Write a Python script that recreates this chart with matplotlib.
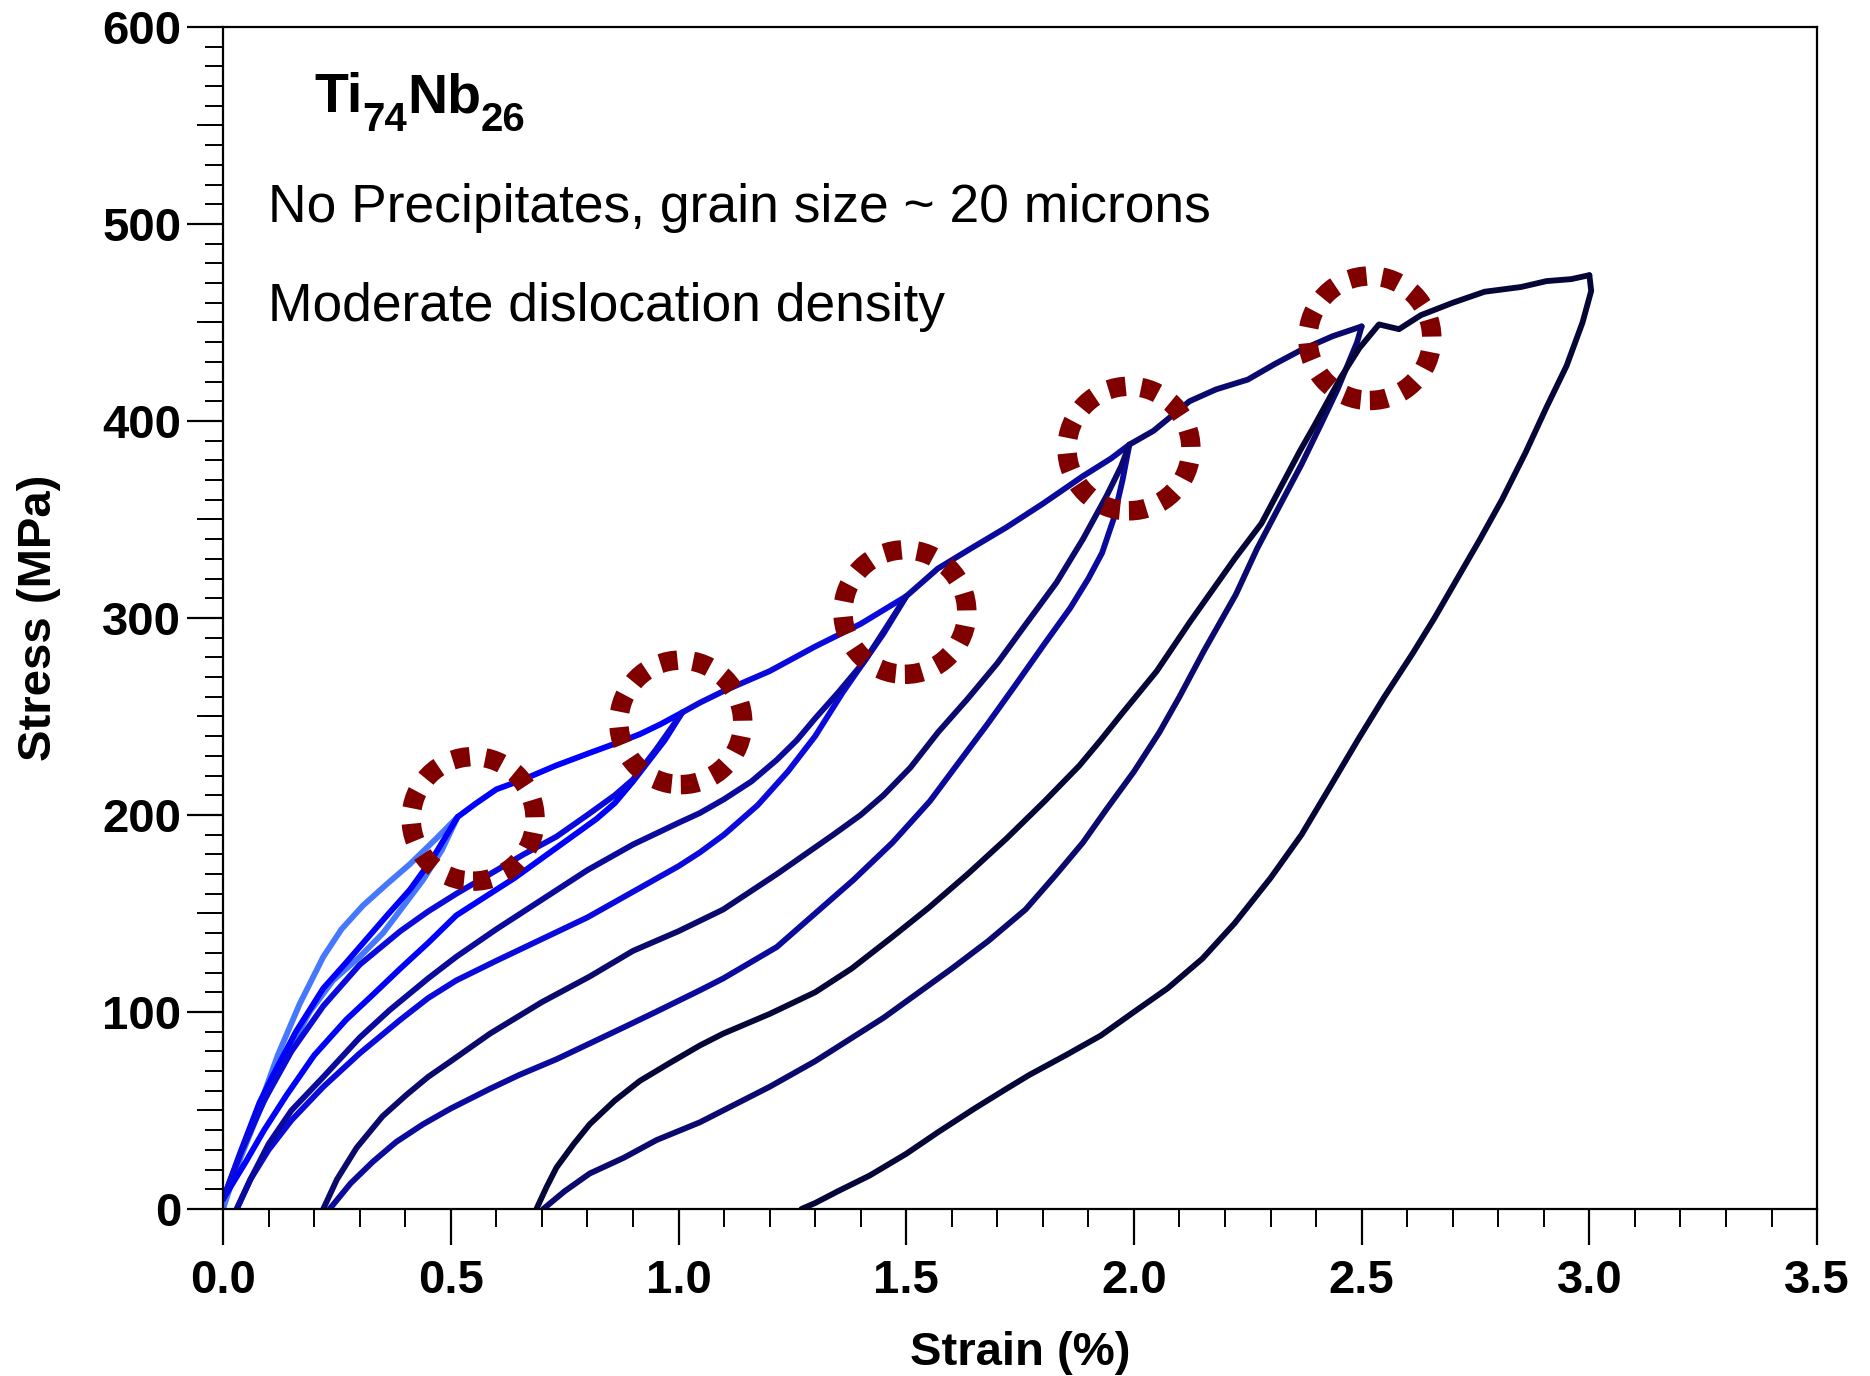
import matplotlib
matplotlib.use('Agg')
import matplotlib.pyplot as plt
from matplotlib.patches import Ellipse
from matplotlib.ticker import MultipleLocator, FormatStrFormatter

plt.rcParams['font.family'] = ['Liberation Sans', 'DejaVu Sans']

# --- data (strain in %, stress in MPa) ---
# cycle 1 (to 0.5 %)
load1_strain = [0.0, 0.035, 0.075, 0.12, 0.168, 0.22, 0.26, 0.307, 0.36, 0.41, 0.468, 0.515]
load1_stress = [0, 25, 49, 78, 104, 128, 142, 154, 165, 175, 188, 199]
unload1_strain = [0.515, 0.48, 0.439, 0.40, 0.351, 0.30, 0.2415, 0.19, 0.13, 0.08, 0.04, 0.0]
unload1_stress = [199, 182, 167, 155, 140, 128, 116, 100, 74, 50, 27, 2]

# cycle 2 (to 1.0 %)
load2_strain = [0.0, 0.04, 0.08, 0.11, 0.16, 0.22, 0.27, 0.315, 0.36, 0.41, 0.46, 0.515,
                0.556, 0.60, 0.659, 0.73, 0.805, 0.87, 0.915, 0.96, 1.008]
load2_stress = [5, 30, 54, 68, 90, 112, 125, 137, 149, 162, 178, 199,
                206, 213, 218, 225, 231.5, 237, 241, 246, 252]
unload2_strain = [1.008, 0.97, 0.93, 0.9, 0.86, 0.82, 0.76, 0.70, 0.64, 0.586, 0.512, 0.45,
                  0.389, 0.33, 0.27, 0.2, 0.14, 0.09, 0.05, 0.0]
unload2_stress = [252, 238, 226, 217, 206, 198, 188, 178, 168, 160, 149, 135,
                  122, 109, 96, 78, 58, 40, 24, 5]

# cycle 3 (to 1.5 %)
load3_strain = [0.0, 0.04, 0.09, 0.15, 0.22, 0.3, 0.389, 0.45, 0.512, 0.586, 0.66, 0.732, 0.80,
                0.86, 0.9, 0.95, 1.008, 1.047, 1.1, 1.2, 1.3, 1.4, 1.45, 1.5]
load3_stress = [5, 29, 55, 80, 103, 124, 141, 151, 160, 170, 180, 189, 200,
                210, 218, 233, 252, 257, 263, 273, 285.5, 297, 304, 311]
unload3_strain = [1.5, 1.45, 1.408, 1.36, 1.3, 1.24, 1.174, 1.1, 1.047, 1.0, 0.9, 0.8, 0.7, 0.6,
                  0.512, 0.45, 0.389, 0.3, 0.22, 0.15, 0.1, 0.06, 0.03]
unload3_stress = [311, 292, 278, 262, 240, 222, 205, 190, 181, 174, 161, 148, 137, 126,
                  116, 107, 96, 79, 62, 45, 30, 15, 0]

# cycle 4 (to 2.0 %)
load4_strain = [0.03, 0.06, 0.1, 0.15, 0.22, 0.3, 0.366, 0.45, 0.512, 0.6, 0.7, 0.8, 0.9, 1.0,
                1.047, 1.1, 1.16, 1.216, 1.26, 1.3, 1.35, 1.408, 1.45, 1.5, 1.569, 1.64, 1.72,
                1.8, 1.888, 1.95, 1.99]
load4_stress = [0, 15, 33, 50, 67, 87, 101, 117, 128, 142, 157, 172, 185, 196,
                201, 208, 217, 228, 238, 249, 262, 278, 293, 311, 325, 335, 346,
                358, 372, 381, 388]
unload4_strain = [1.99, 1.975, 1.955, 1.93, 1.9, 1.86, 1.804, 1.74, 1.678, 1.61, 1.552, 1.47,
                  1.384, 1.3, 1.216, 1.098, 1.047, 0.95, 0.878, 0.805, 0.732, 0.65, 0.586, 0.5,
                  0.439, 0.38, 0.329, 0.28, 0.234]
unload4_stress = [388, 370, 350, 333, 320, 305, 287, 266, 246, 225, 207, 186,
                  167, 150, 133, 117, 111, 100, 92, 84, 76, 68, 61, 51,
                  43, 34, 24, 13, 0]

# cycle 5 (to 2.5 %)
load5_strain = [0.22, 0.25, 0.293, 0.35, 0.403, 0.45, 0.5, 0.586, 0.7, 0.805, 0.9, 1.0, 1.098,
                1.216, 1.34, 1.4, 1.45, 1.509, 1.57, 1.635, 1.7, 1.76, 1.83, 1.888, 1.94, 1.972,
                1.99, 2.043, 2.122, 2.18, 2.25, 2.31, 2.367, 2.436, 2.5]
load5_stress = [0, 15, 31, 47, 58, 67, 75, 89, 105, 118, 131, 141, 152,
                170, 190, 200, 210, 224, 242, 259, 277, 296, 318, 340, 362, 377,
                388, 395, 410, 416, 421, 429, 436, 443, 448]
unload5_strain = [2.5, 2.49, 2.447, 2.41, 2.368, 2.32, 2.27, 2.224, 2.153, 2.1, 2.056, 2.0,
                  1.94, 1.888, 1.83, 1.762, 1.68, 1.6, 1.552, 1.45, 1.3, 1.2, 1.098, 1.047,
                  0.952, 0.88, 0.805, 0.75, 0.703]
unload5_stress = [448, 440, 416, 398, 378, 357, 335, 312, 283, 260, 242, 222,
                  203, 186, 170, 152, 136, 122, 114, 97, 75, 62, 50, 44,
                  35, 26, 18, 9, 0]

# cycle 6 (to 3.0 %)
load6_strain = [0.688, 0.71, 0.732, 0.77, 0.805, 0.86, 0.915, 0.98, 1.047, 1.098, 1.2, 1.3, 1.38,
                1.469, 1.55, 1.635, 1.72, 1.804, 1.88, 1.927, 1.972, 2.05, 2.123, 2.221, 2.28,
                2.319, 2.365, 2.397, 2.454, 2.495, 2.538, 2.582, 2.63, 2.7, 2.77, 2.85, 2.906,
                2.96, 3.0]
load6_stress = [0, 11, 21, 33, 43, 55, 65, 74, 83, 89, 99, 110, 122,
                138, 153, 170, 188, 207, 225, 238, 251, 273, 298, 330, 348,
                365, 385, 398, 422, 437, 449, 446.6, 453.7, 460, 465.6, 468, 471,
                472, 474]
unload6_strain = [3.0, 3.004, 2.985, 2.95, 2.906, 2.86, 2.808, 2.76, 2.71, 2.66, 2.612, 2.55,
                  2.494, 2.43, 2.368, 2.3, 2.221, 2.15, 2.074, 2.0, 1.927, 1.85, 1.77, 1.72,
                  1.65, 1.57, 1.5, 1.42, 1.35, 1.3, 1.27]
unload6_stress = [474, 466, 450, 428, 407, 384, 360, 340, 320, 300, 282, 260,
                  239, 214, 190, 168, 145, 127, 112, 100, 88, 78, 68, 61,
                  51, 39, 28, 17, 9, 3, 0]

cycle_colors = ['#4677FF', '#0000FF', '#0A0ADC', '#0A0A9C', '#0A0A6E', '#050537']

# dashed circles mark the onset points
circle_strain = [0.549, 1.005, 1.497, 1.989, 2.518]
circle_stress = [198, 247, 303, 386, 442]

# alloy name, pieces flagged True are subscripts
formula_parts = [('Ti', False), ('74', True), ('Nb', False), ('26', True)]

cycles = [
    (load1_strain, load1_stress, unload1_strain, unload1_stress),
    (load2_strain, load2_stress, unload2_strain, unload2_stress),
    (load3_strain, load3_stress, unload3_strain, unload3_stress),
    (load4_strain, load4_stress, unload4_strain, unload4_stress),
    (load5_strain, load5_stress, unload5_strain, unload5_stress),
    (load6_strain, load6_stress, unload6_strain, unload6_stress),
]

fig = plt.figure(figsize=(18.7, 13.76), dpi=100)
ax = fig.add_axes([0.1193, 0.1214, 0.8524, 0.8590])

for i, (ls, lsig, us, usig) in enumerate(cycles):
    ax.plot(ls, lsig, color=cycle_colors[i], lw=4.2, solid_joinstyle='round', solid_capstyle='round')
    ax.plot(us, usig, color=cycle_colors[i], lw=4.2, solid_joinstyle='round', solid_capstyle='round')

# circle radius in data units (about 62 px on screen)
rx, ry = 0.136, 31.6
for cx, cy in zip(circle_strain, circle_stress):
    ax.add_patch(Ellipse((cx, cy), 2 * rx, 2 * ry, fill=False, ec='#800000',
                         lw=14, ls=(0, (0.9, 0.8)), zorder=5))

ax.set_xlim(0, 3.5)
ax.set_ylim(0, 600)
ax.xaxis.set_major_locator(MultipleLocator(0.5))
ax.xaxis.set_minor_locator(MultipleLocator(0.1))
ax.xaxis.set_major_formatter(FormatStrFormatter('%.1f'))
ax.yaxis.set_major_locator(MultipleLocator(100))
ax.yaxis.set_minor_locator(MultipleLocator(10))

ax.tick_params(which='major', direction='out', length=26, width=1.6, labelsize=34)
ax.tick_params(which='minor', direction='out', length=13, width=1.4)
ax.tick_params(axis='x', which='major', pad=10)
ax.tick_params(axis='y', which='major', pad=4)
for lab in ax.get_xticklabels() + ax.get_yticklabels():
    lab.set_fontweight('bold')
for sp in ax.spines.values():
    sp.set_linewidth(1.6)

# medium ticks every 50 MPa
ax2 = ax.twinx()
ax2.set_ylim(0, 600)
ax2.yaxis.tick_left()
ax2.set_yticks([50, 150, 250, 350, 450, 550])
ax2.tick_params(axis='y', direction='out', length=19, width=1.4, labelleft=False, labelright=False)
for sp in ax2.spines.values():
    sp.set_visible(False)

ax.set_xlabel('Strain (%)', fontsize=34, fontweight='bold', labelpad=20)
ax.set_ylabel('Stress (MPa)', fontsize=34, fontweight='bold')
ax.yaxis.set_label_coords(-0.102, 0.5)

# chemical formula built piece by piece so subscripts sit low like the original
prev = ax.text(0.057, 0.928, formula_parts[0][0], transform=ax.transAxes,
               fontsize=40, fontweight='bold')
for txt, is_sub in formula_parts[1:]:
    if is_sub:
        dy, size = -11, 29
    else:
        dy, size = 11, 40
    prev = ax.annotate(txt, xy=(1, 0), xycoords=prev, xytext=(0, dy), textcoords='offset points',
                       fontsize=size, fontweight='bold', va='bottom', ha='left')

ax.text(0.0282, 0.8346, 'No Precipitates, grain size ~ 20 microns', transform=ax.transAxes, fontsize=38.4)
ax.text(0.0282, 0.7515, 'Moderate dislocation density', transform=ax.transAxes, fontsize=38.4)

fig.savefig('out.png', dpi=100)
